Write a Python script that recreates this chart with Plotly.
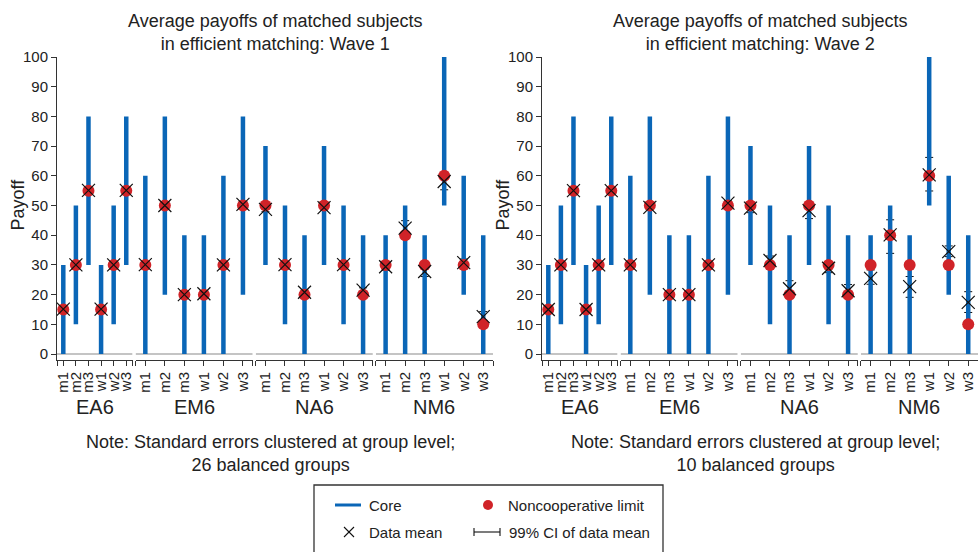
import plotly.graph_objects as go

# ---------------- data ----------------
groups = ["EA6", "EM6", "NA6", "NM6"]
roles = ["m1", "m2", "m3", "w1", "w2", "w3"]

core_low = {
    "EA6": [0, 10, 30, 0, 10, 30],
    "EM6": [0, 20, 0, 0, 0, 20],
    "NA6": [30, 10, 0, 30, 10, 0],
    "NM6": [0, 0, 0, 50, 20, 0],
}
core_high = {
    "EA6": [30, 50, 80, 30, 50, 80],
    "EM6": [60, 80, 40, 40, 60, 80],
    "NA6": [70, 50, 40, 70, 50, 40],
    "NM6": [40, 50, 40, 100, 60, 40],
}
noncoop = {
    "EA6": [15, 30, 55, 15, 30, 55],
    "EM6": [30, 50, 20, 20, 30, 50],
    "NA6": [50, 30, 20, 50, 30, 20],
    "NM6": [30, 40, 30, 60, 30, 10],
}

# Wave 1
w1_mean = {
    "EA6": [15.1, 30.0, 55.1, 15.1, 30.0, 55.1],
    "EM6": [30.1, 50.0, 20.0, 20.3, 30.0, 50.4],
    "NA6": [48.7, 30.1, 20.8, 49.3, 30.1, 21.5],
    "NM6": [29.4, 42.4, 27.8, 58.1, 30.8, 12.6],
}
w1_ci_low = {
    "EA6": [14.6, 29.5, 54.6, 14.6, 29.5, 54.6],
    "EM6": [29.6, 49.5, 19.5, 19.8, 29.5, 49.9],
    "NA6": [47.9, 29.5, 20.1, 48.5, 29.5, 20.7],
    "NM6": [28.2, 40.0, 26.1, 55.3, 29.6, 10.9],
}
w1_ci_high = {
    "EA6": [15.6, 30.5, 55.6, 15.6, 30.5, 55.6],
    "EM6": [30.6, 50.5, 20.5, 20.8, 30.5, 50.9],
    "NA6": [49.5, 30.7, 21.5, 50.1, 30.7, 22.3],
    "NM6": [30.6, 44.9, 29.5, 61.0, 32.0, 14.3],
}

# Wave 2
w2_mean = {
    "EA6": [15.0, 30.0, 55.0, 15.0, 30.0, 55.0],
    "EM6": [30.0, 49.4, 20.0, 20.0, 30.0, 50.8],
    "NA6": [49.1, 31.5, 22.0, 48.3, 28.9, 21.3],
    "NM6": [25.5, 40.1, 22.7, 60.3, 34.5, 17.4],
}
w2_ci_low = {
    "EA6": [14.5, 29.5, 54.5, 14.5, 29.5, 54.5],
    "EM6": [29.4, 48.6, 19.4, 19.4, 29.4, 50.0],
    "NA6": [47.6, 30.0, 19.3, 45.6, 27.4, 19.5],
    "NM6": [23.5, 33.9, 19.1, 54.9, 32.8, 14.0],
}
w2_ci_high = {
    "EA6": [15.5, 30.5, 55.5, 15.5, 30.5, 55.5],
    "EM6": [30.6, 50.2, 20.6, 20.6, 30.6, 51.6],
    "NA6": [50.6, 33.0, 24.7, 50.8, 30.6, 23.4],
    "NM6": [28.3, 45.2, 26.1, 66.2, 36.4, 21.0],
}

waves = [
    dict(mean=w1_mean, lo=w1_ci_low, hi=w1_ci_high,
         title="Average payoffs of matched subjects<br>in efficient matching: Wave 1",
         note="Note: Standard errors clustered at group level;<br>26 balanced groups"),
    dict(mean=w2_mean, lo=w2_ci_low, hi=w2_ci_high,
         title="Average payoffs of matched subjects<br>in efficient matching: Wave 2",
         note="Note: Standard errors clustered at group level;<br>10 balanced groups"),
]

# ---------------- style / layout ----------------
W, H = 978, 552
BLUE = "#0a66b7"
RED = "#d02328"
TXT = "#222222"
AXC = "#333333"
FONT = "Liberation Sans, Arial, Helvetica, sans-serif"

panel_left = [57, 542]
panel_width = 436
seg_gap = 3
rel_width = [0.645, 1, 1, 1]
y_top_px, y_bot_px = 57, 360


def px(x):
    return min(1.0, max(0.0, x / W))


def py(y):
    return 1 - y / H


fig = go.Figure()
layout = dict(
    width=W, height=H, margin=dict(l=0, r=0, t=0, b=0, autoexpand=False),
    paper_bgcolor="white", plot_bgcolor="white", showlegend=False,
    font=dict(family=FONT, color=TXT, size=15),
)
shapes = []
annotations = []

unit = (panel_width - seg_gap * 3) / sum(rel_width)
pos = [i + 0.5 for i in range(len(roles))]

for wi, wave in enumerate(waves):
    yname = "y" if wi == 0 else "y2"
    ykey = "yaxis" if wi == 0 else "yaxis2"
    left = panel_left[wi]
    first_x = None
    for gi, g in enumerate(groups):
        k = wi * 4 + gi + 1
        xname = "x" if k == 1 else f"x{k}"
        xkey = "xaxis" if k == 1 else f"xaxis{k}"
        seg_w = unit * rel_width[gi]
        layout[xkey] = dict(
            domain=[px(left), px(left + seg_w)], range=[0, len(roles)],
            anchor=yname, showgrid=False, zeroline=False, automargin=False,
            showline=True, linecolor=AXC, linewidth=1,
            ticks="outside", ticklen=5, tickcolor=AXC, tickwidth=1,
            tickvals=[0] + pos + [len(roles)], ticktext=[""] + roles + [""],
            tickangle=-90, tickfont=dict(size=15, color=TXT), fixedrange=True,
        )
        if first_x is None:
            first_x = xname
        # grey baseline at 0
        shapes.append(dict(type="line", xref=xname, yref=yname, x0=0, x1=len(roles),
                           y0=0, y1=0, line=dict(color="#c4c4c4", width=2), layer="below"))
        annotations.append(dict(text=g, x=px(left + seg_w / 2), y=py(407), xref="paper",
                                yref="paper", showarrow=False, xanchor="center",
                                yanchor="middle", font=dict(size=20, color=TXT)))

        mean = wave["mean"][g]
        lo = wave["lo"][g]
        hi = wave["hi"][g]
        # CI
        fig.add_trace(go.Scatter(
            x=pos, y=mean, xaxis=xname, yaxis=yname, mode="markers",
            marker=dict(size=1, opacity=0), hoverinfo="skip",
            error_y=dict(type="data", symmetric=False,
                         array=[h - m for h, m in zip(hi, mean)],
                         arrayminus=[m - l for m, l in zip(mean, lo)],
                         color="#111111", thickness=1, width=4),
        ))
        # Core
        cx, cy = [], []
        for p, a, b in zip(pos, core_low[g], core_high[g]):
            cx += [p, p, None]
            cy += [a, b, None]
        fig.add_trace(go.Scatter(x=cx, y=cy, xaxis=xname, yaxis=yname, mode="lines",
                                 line=dict(color=BLUE, width=4.5), hoverinfo="skip"))
        # Noncooperative limit
        fig.add_trace(go.Scatter(x=pos, y=noncoop[g], xaxis=xname, yaxis=yname,
                                 mode="markers", cliponaxis=False,
                                 marker=dict(symbol="circle", size=12, color=RED,
                                             line=dict(width=0))))
        # Data mean
        fig.add_trace(go.Scatter(x=pos, y=mean, xaxis=xname, yaxis=yname,
                                 mode="markers", cliponaxis=False,
                                 marker=dict(symbol="x-thin", size=13, color="#111111",
                                             line=dict(width=1.2, color="#111111"))))
        left += seg_w + seg_gap

    layout[ykey] = dict(
        domain=[py(y_bot_px), py(y_top_px)], range=[-2, 100], anchor=first_x,
        showgrid=False, zeroline=False, showline=True, linecolor=AXC, linewidth=1,
        automargin=False,
        ticks="outside", ticklen=5, tickcolor=AXC, tickwidth=1,
        tickvals=list(range(0, 101, 10)), tickfont=dict(size=15, color=TXT),
        fixedrange=True,
    )
    center = panel_left[wi] + panel_width / 2
    annotations.append(dict(text=wave["title"], x=px(center), y=py(32.5), xref="paper",
                            yref="paper", showarrow=False, xanchor="center",
                            yanchor="middle", font=dict(size=18, color=TXT)))
    annotations.append(dict(text=wave["note"], x=px(center - 5), y=py(453.5), xref="paper",
                            yref="paper", showarrow=False, xanchor="center",
                            yanchor="middle", font=dict(size=18, color=TXT)))
    annotations.append(dict(text="Payoff", x=px(panel_left[wi] - 39.5), y=py(205),
                            xref="paper", yref="paper", showarrow=False, textangle=-90,
                            xanchor="center", yanchor="middle",
                            font=dict(size=18, color=TXT)))

# ---------------- legend (drawn) ----------------
shapes.append(dict(type="rect", xref="paper", yref="paper", x0=px(314), x1=px(663),
                   y0=-0.05, y1=py(485), line=dict(color=AXC, width=1.3),
                   fillcolor="rgba(0,0,0,0)"))
shapes.append(dict(type="line", xref="paper", yref="paper", x0=px(335), x1=px(361),
                   y0=py(505), y1=py(505), line=dict(color=BLUE, width=3)))
shapes.append(dict(type="circle", xref="paper", yref="paper", x0=px(483), x1=px(493),
                   y0=py(510), y1=py(500), fillcolor=RED, line=dict(width=0)))
shapes.append(dict(type="line", xref="paper", yref="paper", x0=px(344), x1=px(354),
                   y0=py(527), y1=py(537), line=dict(color="#111111", width=1.1)))
shapes.append(dict(type="line", xref="paper", yref="paper", x0=px(344), x1=px(354),
                   y0=py(537), y1=py(527), line=dict(color="#111111", width=1.1)))
shapes.append(dict(type="line", xref="paper", yref="paper", x0=px(474), x1=px(500),
                   y0=py(532), y1=py(532), line=dict(color="#111111", width=1.1)))
for cxp in (474, 500):
    shapes.append(dict(type="line", xref="paper", yref="paper", x0=px(cxp), x1=px(cxp),
                       y0=py(528), y1=py(536), line=dict(color="#111111", width=1.1)))
for txt, lx, ly in [("Core", 367, 505), ("Noncooperative limit", 506, 505),
                    ("Data mean", 367, 532), ("99% CI of data mean", 507, 532)]:
    annotations.append(dict(text=txt, x=px(lx), y=py(ly), xref="paper", yref="paper",
                            showarrow=False, xanchor="left", yanchor="middle",
                            font=dict(size=15, color=TXT)))

layout["shapes"] = shapes
layout["annotations"] = annotations
fig.update_layout(**layout)
fig.write_html(
    "out.html",
    config={"displayModeBar": False},
    post_script="document.documentElement.style.margin='0';"
                "document.body.style.margin='0';"
                "document.body.style.padding='0';"
                "document.body.style.overflow='hidden';",
)
